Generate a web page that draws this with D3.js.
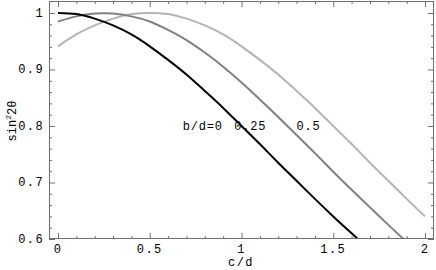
<!DOCTYPE html>
<html>
<head>
<meta charset="utf-8">
<script src="https://cdn.jsdelivr.net/npm/d3@7"></script>
<style>
  body { margin: 0; background: #fff; }
  text { font-family: "Liberation Mono", "DejaVu Sans Mono", monospace; font-size: 12px; fill: #000; }
</style>
</head>
<body>
<script>
// c/d sample points, shared by every curve
const cd = [0, 0.1, 0.2, 0.3, 0.4, 0.5, 0.6, 0.7, 0.8, 0.9, 1.0,
            1.1, 1.2, 1.3, 1.4, 1.5, 1.6, 1.7, 1.8, 1.9, 2.0];
// sin^2 2theta, one list per b/d
const s_b0   = [1.000, 0.998, 0.990, 0.978, 0.962, 0.941, 0.917, 0.891, 0.862, 0.832, 0.800,
                0.768, 0.735, 0.703, 0.671, 0.640, 0.610, 0.581, 0.553, 0.526, 0.500];
const s_b025 = [0.985, 0.994, 0.999, 0.999, 0.994, 0.985, 0.970, 0.952, 0.930, 0.905, 0.877,
                0.847, 0.816, 0.784, 0.752, 0.719, 0.687, 0.656, 0.625, 0.595, 0.566];
const s_b05  = [0.941, 0.962, 0.978, 0.990, 0.998, 1.000, 0.998, 0.990, 0.978, 0.962, 0.941,
                0.917, 0.891, 0.862, 0.832, 0.800, 0.768, 0.735, 0.703, 0.671, 0.640];
const curveLabels = ["b/d=0", "0.25", "0.5"];
const xTicks = [0, 0.5, 1, 1.5, 2];
const yTicks = [0.6, 0.7, 0.8, 0.9, 1];

const width = 436, height = 270;
const frame = {left: 49, right: 434, top: 1, bottom: 239};

const svg = d3.select("body").append("svg")
    .attr("width", width)
    .attr("height", height);

const xscale = d3.scaleLinear()
    .domain([-0.049, 2.049])
    .range([frame.left, frame.right]);
const yscale = d3.scaleLinear()
    .domain([0.6, 1.0212])
    .range([frame.bottom, frame.top]);

// clip curves to the frame
svg.append("clipPath").attr("id", "clip")
    .append("rect")
    .attr("x", frame.left).attr("y", frame.top)
    .attr("width", frame.right - frame.left)
    .attr("height", frame.bottom - frame.top);

const series = [
    {values: s_b0,   color: "#000000"},
    {values: s_b025, color: "#808080"},
    {values: s_b05,  color: "#b4b4b4"}
];

const line = d3.line()
    .x(d => xscale(d[0]))
    .y(d => yscale(d[1]))
    .curve(d3.curveNatural);

// draw light curves first so the black one is on top
svg.append("g").attr("clip-path", "url(#clip)")
    .selectAll("path")
    .data(series.slice().reverse())
    .enter()
    .append("path")
    .attr("d", s => line(cd.map((c, i) => [c, s.values[i]])))
    .attr("fill", "none")
    .attr("stroke", s => s.color)
    .attr("stroke-width", 2);

// frame with inward ticks on all four sides
const tickColor = "#6e6e6e";
const axes = svg.append("g");
const xMinor = d3.range(0, 2.001, 0.1).map(v => +v.toFixed(2));
const yMinor = d3.range(0.6, 1.001, 0.02).map(v => +v.toFixed(2));
const isMajor = (v, list) => list.some(t => Math.abs(t - v) < 1e-6);

axes.append("g")
    .attr("transform", `translate(0,${frame.bottom})`)
    .call(d3.axisBottom(xscale).tickValues(xMinor)
        .tickSizeInner(0).tickSizeOuter(0).tickFormat(""))
    .call(g => g.selectAll(".tick line")
        .attr("y2", d => isMajor(d, xTicks) ? -6 : -3))
    .call(g => g.select(".domain").remove());
axes.append("g")
    .attr("transform", `translate(0,${frame.top})`)
    .call(d3.axisTop(xscale).tickValues(xMinor)
        .tickSizeInner(0).tickSizeOuter(0).tickFormat(""))
    .call(g => g.selectAll(".tick line")
        .attr("y2", d => isMajor(d, xTicks) ? 6 : 3))
    .call(g => g.select(".domain").remove());
axes.append("g")
    .attr("transform", `translate(${frame.left},0)`)
    .call(d3.axisLeft(yscale).tickValues(yMinor)
        .tickSizeInner(0).tickSizeOuter(0).tickFormat(""))
    .call(g => g.selectAll(".tick line")
        .attr("x2", d => isMajor(d, yTicks) ? 6 : 3))
    .call(g => g.select(".domain").remove());
axes.append("g")
    .attr("transform", `translate(${frame.right},0)`)
    .call(d3.axisRight(yscale).tickValues(yMinor)
        .tickSizeInner(0).tickSizeOuter(0).tickFormat(""))
    .call(g => g.selectAll(".tick line")
        .attr("x2", d => isMajor(d, yTicks) ? -6 : -3))
    .call(g => g.select(".domain").remove());
axes.selectAll(".tick line").attr("stroke", tickColor);

svg.append("rect")
    .attr("x", frame.left + 0.5).attr("y", frame.top + 0.5)
    .attr("width", frame.right - frame.left - 1)
    .attr("height", frame.bottom - frame.top - 1)
    .attr("fill", "none")
    .attr("stroke", tickColor);

// tick labels
svg.append("g").selectAll("text")
    .data(xTicks).enter().append("text")
    .attr("x", d => xscale(d))
    .attr("y", 253)
    .attr("text-anchor", "middle")
    .style("letter-spacing", "1.4px")
    .text(d => d);
svg.append("g").selectAll("text")
    .data(yTicks).enter().append("text")
    .attr("x", 44)
    .attr("y", d => yscale(d) + 4)
    .attr("text-anchor", "end")
    .style("letter-spacing", "1.4px")
    .text(d => d);

// axis titles
svg.append("text")
    .attr("x", 241).attr("y", 266)
    .attr("text-anchor", "middle")
    .style("letter-spacing", "1.4px")
    .text("c/d");
const ytitle = svg.append("text")
    .attr("transform", "translate(16,121) rotate(-90)")
    .attr("text-anchor", "middle");
ytitle.append("tspan").text("sin");
ytitle.append("tspan").attr("dy", -5).style("font-size", "8px").text("2");
ytitle.append("tspan").attr("dy", 5).text("2θ");

// curve labels
const labelX = [0.68, 0.96, 1.3];
svg.append("g").selectAll("text")
    .data(curveLabels).enter().append("text")
    .attr("x", (d, i) => xscale(labelX[i]))
    .attr("y", yscale(0.8) + 4)
    .style("letter-spacing", "0.8px")
    .text(d => d);
</script>
</body>
</html>
